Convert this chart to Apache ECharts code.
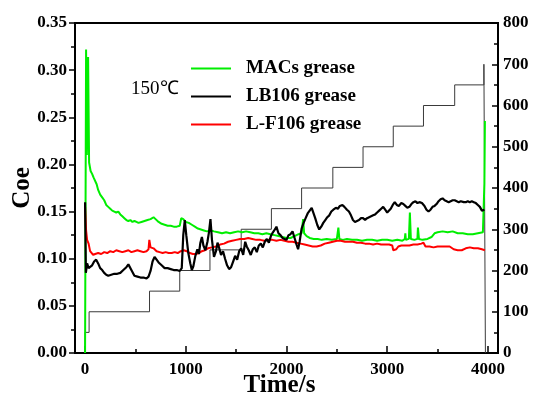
<!DOCTYPE html>
<html><head><meta charset="utf-8">
<script src="https://cdn.jsdelivr.net/npm/echarts@6/dist/echarts.min.js"></script>
<style>html,body{margin:0;padding:0;background:#fff}#c{width:535px;height:401px}</style>
</head><body><div id="c"></div>
<script>
const xMajorTicks=[0,1000,2000,3000,4000];
const xMinorTicks=[500,1500,2500,3500];
const yLeftMinorTicks=[0.025,0.075,0.125,0.175,0.225,0.275,0.325];
const yRightMinorTicks=[50,150,250,350,450,550,650,750];
const seriesNames=['MACs grease','LB106 grease','L-F106 grease'];
const tempLabel='150\u2103';

const macsData=[[0,0],[5,0.16],[10,0.322],[18,0.21],[30,0.314],[40,0.202],[55,0.193],[70,0.19],[85,0.186],[100,0.184],[115,0.179],[130,0.173],[150,0.168],[170,0.165],[190,0.162],[210,0.157],[230,0.155],[250,0.153],[270,0.151],[290,0.150],[310,0.149],[330,0.150],[350,0.147],[370,0.145],[390,0.143],[410,0.141],[430,0.140],[450,0.141],[470,0.139],[490,0.140],[510,0.139],[530,0.138],[560,0.139],[590,0.140],[620,0.141],[650,0.142],[680,0.144],[700,0.142],[730,0.139],[760,0.137],[790,0.136],[820,0.135],[850,0.135],[880,0.134],[910,0.134],[940,0.135],[955,0.143],[975,0.142],[1000,0.139],[1030,0.138],[1060,0.136],[1090,0.134],[1120,0.132],[1150,0.131],[1180,0.130],[1210,0.129],[1250,0.130],[1280,0.129],[1320,0.128],[1360,0.127],[1400,0.128],[1440,0.127],[1480,0.128],[1520,0.129],[1560,0.128],[1600,0.129],[1640,0.128],[1680,0.127],[1720,0.127],[1760,0.126],[1800,0.127],[1840,0.126],[1880,0.125],[1920,0.124],[1960,0.123],[2000,0.122],[2040,0.122],[2080,0.124],[2120,0.126],[2150,0.127],[2165,0.142],[2175,0.127],[2200,0.124],[2230,0.122],[2270,0.121],[2310,0.121],[2350,0.120],[2400,0.121],[2450,0.120],[2500,0.121],[2515,0.133],[2525,0.121],[2560,0.120],[2600,0.121],[2650,0.120],[2700,0.120],[2750,0.119],[2800,0.120],[2850,0.120],[2900,0.119],[2950,0.120],[3000,0.120],[3050,0.119],[3100,0.120],[3150,0.119],[3175,0.121],[3180,0.127],[3185,0.120],[3215,0.121],[3225,0.149],[3235,0.121],[3270,0.120],[3300,0.121],[3305,0.133],[3315,0.121],[3350,0.120],[3400,0.121],[3440,0.123],[3470,0.127],[3500,0.128],[3550,0.129],[3600,0.128],[3650,0.129],[3700,0.127],[3750,0.127],[3800,0.126],[3850,0.126],[3900,0.127],[3950,0.128],[3960,0.129],[3965,0.18],[3970,0.246]];

const lb106Data=[[0,0.16],[8,0.085],[20,0.095],[35,0.09],[50,0.092],[70,0.093],[90,0.097],[110,0.099],[130,0.095],[150,0.090],[170,0.088],[190,0.085],[210,0.083],[230,0.082],[260,0.083],[290,0.084],[320,0.084],[350,0.085],[380,0.088],[410,0.091],[430,0.094],[445,0.093],[465,0.087],[490,0.082],[520,0.081],[550,0.080],[580,0.080],[610,0.079],[630,0.081],[650,0.087],[670,0.097],[690,0.102],[710,0.099],[730,0.096],[760,0.093],[790,0.090],[820,0.090],[850,0.089],[880,0.088],[910,0.088],[940,0.087],[960,0.09],[975,0.125],[990,0.141],[1005,0.125],[1025,0.106],[1045,0.095],[1060,0.088],[1075,0.092],[1095,0.103],[1115,0.110],[1130,0.105],[1145,0.117],[1160,0.123],[1175,0.114],[1195,0.109],[1215,0.118],[1230,0.128],[1245,0.142],[1260,0.120],[1280,0.102],[1300,0.108],[1315,0.117],[1330,0.112],[1350,0.104],[1370,0.108],[1390,0.100],[1410,0.093],[1430,0.089],[1450,0.091],[1470,0.097],[1490,0.103],[1510,0.099],[1530,0.108],[1550,0.111],[1570,0.104],[1590,0.118],[1605,0.113],[1625,0.109],[1645,0.104],[1665,0.110],[1685,0.112],[1705,0.107],[1725,0.114],[1745,0.116],[1765,0.112],[1785,0.118],[1805,0.121],[1825,0.117],[1845,0.124],[1865,0.128],[1885,0.131],[1900,0.134],[1920,0.127],[1940,0.125],[1960,0.122],[1980,0.121],[2000,0.120],[2020,0.125],[2040,0.126],[2060,0.129],[2080,0.122],[2100,0.115],[2115,0.110],[2130,0.118],[2150,0.132],[2170,0.138],[2190,0.143],[2210,0.148],[2230,0.151],[2250,0.154],[2265,0.152],[2285,0.143],[2305,0.136],[2325,0.131],[2345,0.134],[2365,0.138],[2385,0.141],[2405,0.144],[2425,0.146],[2445,0.150],[2465,0.152],[2490,0.154],[2510,0.153],[2530,0.156],[2555,0.157],[2575,0.155],[2600,0.152],[2620,0.150],[2640,0.146],[2660,0.141],[2680,0.139],[2700,0.140],[2720,0.141],[2740,0.143],[2760,0.143],[2780,0.141],[2800,0.143],[2820,0.144],[2840,0.145],[2860,0.146],[2880,0.147],[2900,0.149],[2920,0.151],[2940,0.153],[2960,0.155],[2980,0.152],[3000,0.149],[3015,0.148],[3035,0.153],[3055,0.157],[3075,0.160],[3095,0.157],[3115,0.156],[3140,0.159],[3160,0.158],[3180,0.156],[3200,0.154],[3220,0.155],[3240,0.158],[3260,0.160],[3280,0.161],[3300,0.159],[3320,0.160],[3345,0.159],[3370,0.156],[3390,0.152],[3410,0.150],[3430,0.152],[3450,0.155],[3470,0.156],[3490,0.158],[3510,0.161],[3530,0.163],[3550,0.164],[3570,0.162],[3590,0.161],[3610,0.160],[3630,0.161],[3650,0.162],[3670,0.162],[3690,0.161],[3710,0.160],[3730,0.161],[3760,0.160],[3780,0.160],[3800,0.161],[3820,0.160],[3840,0.161],[3860,0.160],[3880,0.159],[3900,0.157],[3920,0.155],[3940,0.151],[3955,0.150],[3965,0.152]];

const lf106Data=[[0,0.155],[10,0.13],[20,0.12],[35,0.116],[50,0.108],[65,0.106],[80,0.104],[100,0.105],[130,0.106],[160,0.105],[190,0.107],[220,0.106],[250,0.108],[280,0.107],[310,0.109],[340,0.108],[370,0.107],[400,0.108],[430,0.109],[460,0.107],[490,0.108],[520,0.109],[550,0.108],[580,0.107],[610,0.108],[630,0.110],[638,0.120],[650,0.112],[680,0.111],[710,0.108],[740,0.107],[770,0.106],[800,0.107],[830,0.106],[860,0.106],[890,0.107],[920,0.106],[950,0.108],[980,0.109],[1010,0.108],[1040,0.106],[1070,0.105],[1100,0.105],[1130,0.106],[1160,0.108],[1190,0.109],[1220,0.111],[1260,0.112],[1300,0.113],[1340,0.115],[1380,0.116],[1420,0.118],[1460,0.119],[1500,0.120],[1540,0.121],[1580,0.121],[1620,0.122],[1660,0.121],[1700,0.120],[1740,0.120],[1780,0.119],[1820,0.120],[1860,0.120],[1900,0.119],[1940,0.120],[1980,0.119],[2020,0.118],[2060,0.118],[2100,0.117],[2140,0.116],[2180,0.115],[2220,0.114],[2260,0.113],[2300,0.113],[2340,0.114],[2380,0.116],[2420,0.117],[2460,0.118],[2500,0.119],[2540,0.119],[2580,0.118],[2620,0.118],[2660,0.118],[2700,0.117],[2740,0.117],[2780,0.116],[2820,0.116],[2860,0.115],[2900,0.116],[2940,0.115],[2980,0.115],[3020,0.115],[3050,0.114],[3060,0.109],[3090,0.110],[3110,0.113],[3140,0.114],[3180,0.114],[3220,0.114],[3260,0.115],[3300,0.115],[3340,0.116],[3360,0.117],[3380,0.113],[3420,0.113],[3460,0.112],[3500,0.113],[3540,0.113],[3580,0.113],[3620,0.113],[3660,0.110],[3700,0.109],[3740,0.109],[3780,0.111],[3820,0.112],[3860,0.111],[3900,0.111],[3940,0.110],[3970,0.109]];

const tempSteps=[[0,0],[0,50],[40,100],[640,150],[940,200],[1240,250],[1550,300],[1850,350],[2150,400],[2460,450],[2760,500],[3060,550],[3360,600],[3670,650],[3960,700],[3975,0]];

const FONT='"Liberation Serif","Times New Roman",serif';
const chart=echarts.init(document.getElementById('c'),null,{renderer:'canvas'});
const axisLine={show:true,onZero:false,lineStyle:{color:'#000',width:2}};
const noLine={show:false,onZero:false};
const tickStyle={color:'#000',width:1.5};
const labelStyle={fontFamily:FONT,fontWeight:'bold',fontSize:17,color:'#000'};
chart.setOption({
  animation:false,
  backgroundColor:'#fff',
  grid:{left:75,right:37,top:23,bottom:48,show:true,borderColor:'#000',borderWidth:2,containLabel:false,outerBoundsMode:'none'},
  legend:{data:seriesNames,orient:'vertical',left:186,top:54,itemWidth:40,itemHeight:2,itemGap:9,icon:'rect',
    textStyle:{fontFamily:FONT,fontWeight:'bold',fontSize:19,lineHeight:17,color:'#000',padding:[0,0,0,10]}},
  graphic:[{type:'text',left:131,top:80,style:{text:tempLabel,fontFamily:FONT,fontSize:19,fill:'#000'}}],
  xAxis:[{type:'value',min:-100,max:4100,position:'bottom',axisLine:axisLine,splitLine:{show:false},
    name:'Time/s',nameLocation:'middle',nameGap:20,nameMoveOverlap:false,nameTextStyle:{fontFamily:FONT,fontWeight:'bold',fontSize:25,color:'#000',padding:[0,14,0,0]},
    axisTick:{inside:true,length:7,customValues:xMajorTicks,lineStyle:tickStyle},
    axisLabel:Object.assign({customValues:xMajorTicks,margin:8,formatter:v=>String(v)},labelStyle)},
   {type:'value',min:-100,max:4100,position:'bottom',axisLine:noLine,splitLine:{show:false},
    axisTick:{inside:true,length:4,customValues:xMinorTicks,lineStyle:tickStyle},
    axisLabel:{show:false}}],
  yAxis:[{type:'value',min:0,max:0.35,interval:0.05,position:'left',axisLine:axisLine,splitLine:{show:false},
    name:'Coe',nameLocation:'middle',nameGap:40,nameMoveOverlap:false,nameTextStyle:{fontFamily:FONT,fontWeight:'bold',fontSize:25,color:'#000'},
    axisTick:{inside:false,length:6,lineStyle:tickStyle},
    axisLabel:Object.assign({margin:8,formatter:v=>v.toFixed(2)},labelStyle)},
   {type:'value',min:0,max:800,interval:100,position:'right',axisLine:axisLine,splitLine:{show:false},
    axisTick:{inside:true,length:6,lineStyle:tickStyle},
    axisLabel:Object.assign({margin:5,formatter:v=>String(v)},labelStyle)},
   {type:'value',min:0,max:0.35,position:'left',axisLine:noLine,splitLine:{show:false},
    axisTick:{inside:false,length:4,customValues:yLeftMinorTicks,lineStyle:tickStyle},axisLabel:{show:false}},
   {type:'value',min:0,max:800,position:'right',axisLine:noLine,splitLine:{show:false},
    axisTick:{inside:true,length:4,customValues:yRightMinorTicks,lineStyle:tickStyle},axisLabel:{show:false}}],
  series:[
    {name:'Temperature',type:'line',yAxisIndex:1,step:'end',data:tempSteps,symbol:'none',lineStyle:{color:'#3a3a3a',width:1},z:1},
    {name:seriesNames[0],type:'line',data:macsData,symbol:'none',color:'#00ee00',lineStyle:{color:'#00ee00',width:2},z:2},
    {name:seriesNames[2],type:'line',data:lf106Data,symbol:'none',color:'#ff0000',lineStyle:{color:'#ff0000',width:2},z:3},
    {name:seriesNames[1],type:'line',data:lb106Data,symbol:'none',color:'#000000',lineStyle:{color:'#000000',width:2.2},z:4}
  ]
});
</script></body></html>
